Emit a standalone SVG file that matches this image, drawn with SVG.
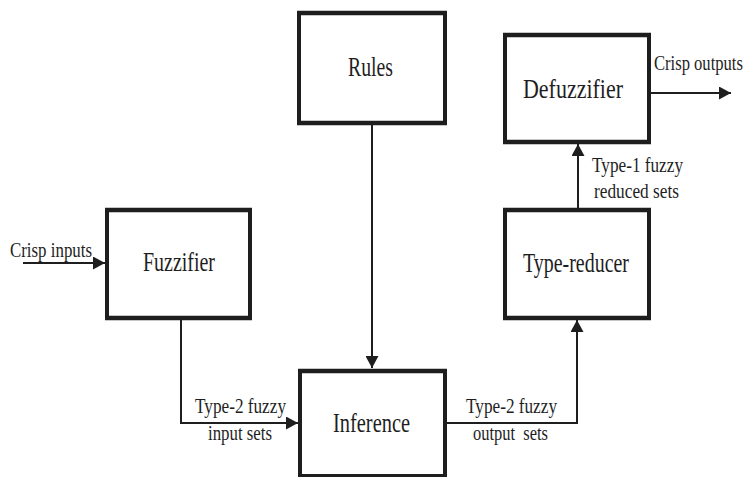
<svg xmlns="http://www.w3.org/2000/svg" width="746" height="477" viewBox="0 0 746 477">
  <style>
    .box { fill: #ffffff; stroke: #1e1e1e; stroke-width: 4; }
    .edge { fill: none; stroke: #1e1e1e; stroke-width: 4.5; }
    .wire { fill: none; stroke: #1e1e1e; stroke-width: 2; }
    .title { font-family: "Liberation Serif", "Times New Roman", serif; font-size: 28px; fill: #1e1e1e; }
    .label { font-family: "Liberation Serif", "Times New Roman", serif; font-size: 21px; fill: #1e1e1e; }
  </style>
  <defs>
    <marker id="arrow" markerUnits="userSpaceOnUse" markerWidth="13" markerHeight="13" refX="12" refY="6.5" orient="auto">
      <path d="M0,0 L12,6.5 L0,13 Z" fill="#1e1e1e"/>
    </marker>
  </defs>
  <rect width="746" height="477" fill="#ffffff"/>

  <!-- connectors -->
  <g id="connectors">
    <path class="wire" d="M23,263 L105,263" marker-end="url(#arrow)"/>
    <path class="wire" d="M181,320 L181,423 L298,423" marker-end="url(#arrow)"/>
    <path class="wire" d="M372,125 L372,368" marker-end="url(#arrow)"/>
    <path class="wire" d="M447,423 L577,423 L577,320" marker-end="url(#arrow)"/>
    <path class="wire" d="M578,208 L578,144" marker-end="url(#arrow)"/>
    <path class="wire" d="M651,93 L731,93" marker-end="url(#arrow)"/>
    <text class="label" x="10" y="257" textLength="82" lengthAdjust="spacingAndGlyphs">Crisp inputs</text>
    <!-- condensed horizontally so the label fits at the right edge -->
    <text class="label" transform="translate(654,70) scale(0.79,1)">Crisp outputs</text>
    <text class="label" x="592" y="172" textLength="91" lengthAdjust="spacingAndGlyphs">Type-1 fuzzy</text>
    <text class="label" x="594" y="198" textLength="85" lengthAdjust="spacingAndGlyphs">reduced sets</text>
    <text class="label" x="195" y="413" textLength="91" lengthAdjust="spacingAndGlyphs">Type-2 fuzzy</text>
    <text class="label" x="208" y="440" textLength="64" lengthAdjust="spacingAndGlyphs">input sets</text>
    <text class="label" x="466" y="413" textLength="91" lengthAdjust="spacingAndGlyphs">Type-2 fuzzy</text>
    <text class="label" x="473" y="440" textLength="75" lengthAdjust="spacingAndGlyphs" xml:space="preserve">output  sets</text>
  </g>

  <!-- blocks -->
  <g id="rules">
    <rect class="box" x="299" y="13" width="146" height="110"/>
    <path class="edge" d="M297,13 H447 M297,123 H447"/>
    <text class="title" x="348" y="76" textLength="45" lengthAdjust="spacingAndGlyphs">Rules</text>
  </g>
  <g id="fuzzifier">
    <rect class="box" x="107" y="210" width="143" height="108"/>
    <path class="edge" d="M105,210 H252 M105,318 H252"/>
    <text class="title" x="143" y="271" textLength="72" lengthAdjust="spacingAndGlyphs">Fuzzifier</text>
  </g>
  <g id="inference">
    <rect class="box" x="300" y="371" width="145" height="105"/>
    <path class="edge" d="M298,371 H447"/>
    <text class="title" x="333" y="432" textLength="77" lengthAdjust="spacingAndGlyphs">Inference</text>
  </g>
  <g id="type-reducer">
    <rect class="box" x="505" y="210" width="144" height="108"/>
    <path class="edge" d="M503,210 H651 M503,318 H651"/>
    <text class="title" x="523" y="272" textLength="106" lengthAdjust="spacingAndGlyphs">Type-reducer</text>
  </g>
  <g id="defuzzifier">
    <rect class="box" x="505" y="35" width="144" height="107"/>
    <path class="edge" d="M503,35 H651 M503,142 H651"/>
    <text class="title" x="523" y="98" textLength="100" lengthAdjust="spacingAndGlyphs">Defuzzifier</text>
  </g>
</svg>
